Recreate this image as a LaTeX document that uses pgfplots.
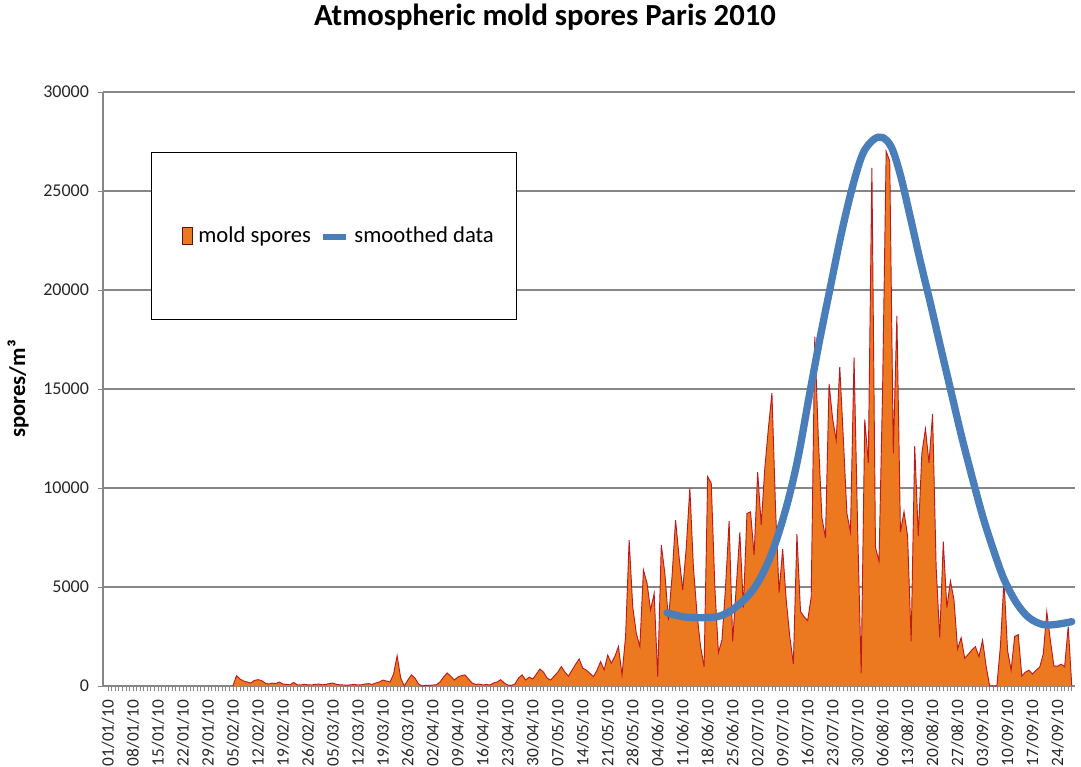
\documentclass[border=0pt]{standalone}
\usepackage{fontspec}
\setmainfont{Carlito}
\usepackage{pgfplots}
\usepackage{pgfplotstable}
\pgfplotsset{compat=1.18}
\definecolor{moldfill}{RGB}{236,121,32}
\definecolor{moldline}{RGB}{190,25,30}
\definecolor{smoothblue}{RGB}{74,126,187}
\definecolor{gridc}{RGB}{134,134,134}

\pgfplotstableread{
day val
35 0
36 520
37 350
38 250
39 200
40 150
41 280
42 320
43 280
44 150
45 100
46 150
47 120
48 200
49 100
50 80
51 60
52 180
53 60
54 50
55 80
56 60
57 50
58 80
59 100
60 60
61 80
62 120
63 150
64 80
65 60
66 50
67 40
68 60
69 80
70 50
71 60
72 100
73 120
74 80
75 150
76 200
77 300
78 250
79 200
80 600
81 1530
82 400
83 0
84 300
85 560
86 400
87 100
88 0
89 30
90 30
91 50
92 60
93 200
94 450
95 660
96 500
97 300
98 450
99 520
100 560
101 350
102 150
103 80
104 100
105 50
106 80
107 50
108 150
109 200
110 320
111 150
112 50
113 30
114 100
115 400
116 560
117 300
118 450
119 350
120 600
121 860
122 700
123 400
124 300
125 500
126 700
127 980
128 700
129 500
130 800
131 1100
132 1360
133 900
134 800
135 640
136 470
137 800
138 1230
139 810
140 1560
141 1150
142 1500
143 1990
144 560
145 2500
146 7370
147 4000
148 2660
149 1990
150 5860
151 5200
152 3840
153 4680
154 470
155 7120
156 5690
157 3330
158 5500
159 8380
160 6500
161 4850
162 7000
163 9990
164 6000
165 3670
166 2000
167 975
168 10570
169 10240
170 5000
171 1690
172 2320
173 5000
174 8330
175 2260
176 5000
177 7760
178 3960
179 8710
180 8800
181 6620
182 10800
183 8140
184 11000
185 13000
186 14790
187 9000
188 4720
189 6910
190 4340
191 2500
192 1115
193 7670
194 3770
195 3500
196 3300
197 4500
198 17630
199 12500
200 8500
201 7470
202 15260
203 13500
204 12410
205 16120
206 12500
207 8710
208 7780
209 16590
210 8000
211 650
212 13460
213 11270
214 26170
215 7000
216 6300
217 15000
218 27000
219 26500
220 11750
221 18690
222 7780
223 8800
224 7570
225 2250
226 12120
227 7570
228 11750
229 12980
230 11270
231 13740
232 6000
233 2440
234 7290
235 3960
236 5300
237 4340
238 1870
239 2440
240 1400
241 1600
242 1820
243 1985
244 1480
245 2320
246 1000
247 0
248 0
249 0
250 2000
251 5350
252 1800
253 800
254 2500
255 2600
256 500
257 700
258 800
259 600
260 800
261 950
262 1600
263 3750
264 2300
265 1000
266 1000
267 1100
268 975
269 3000
270 0
}\molddata

\pgfplotstableread{
day val
156.6 3700
161 3500
165 3450
170.6 3500
174 3750
177 4150
180 4700
182.6 5400
185.5 6500
188.2 7900
191 9700
193.5 11700
196.5 14700
199.5 17600
202.2 20000
205.5 22900
208.7 25300
211.5 26900
214.5 27600
217 27700
219.5 27200
222 25800
224.6 23800
227.5 21500
230.3 19400
233 17300
236 15000
239 12700
242 10600
245 8600
248 6900
251 5400
254.5 4200
258 3450
262 3100
266 3120
270 3250
}\smoothdata

\begin{document}
\begin{tikzpicture}
\path[use as bounding box] (-77.25pt,-60.75pt) rectangle (733.5pt,514.5pt);
\begin{axis}[
  at={(0pt,0pt)}, anchor=south west,
  scale only axis, width=729pt, height=445.5pt,
  xmin=-1.4, xmax=270.9, ymin=0, ymax=30000,
  axis x line*=bottom, axis y line*=left,
  axis line style={gridc, line width=0.9pt},
  scaled y ticks=false,
  ytick={0,5000,...,30000},
  yticklabels={0,5000,10000,15000,20000,25000,30000},
  ymajorgrids, grid style={gridc, line width=1pt},
  xtick={0,7,...,266},
  xticklabels={01/01/10,08/01/10,15/01/10,22/01/10,29/01/10,05/02/10,12/02/10,19/02/10,26/02/10,05/03/10,12/03/10,19/03/10,26/03/10,02/04/10,09/04/10,16/04/10,23/04/10,30/04/10,07/05/10,14/05/10,21/05/10,28/05/10,04/06/10,11/06/10,18/06/10,25/06/10,02/07/10,09/07/10,16/07/10,23/07/10,30/07/10,06/08/10,13/08/10,20/08/10,27/08/10,03/09/10,10/09/10,17/09/10,24/09/10},
  minor xtick={0,1,...,270},
  tick align=outside,
  major tick length=4pt, minor tick length=4pt,
  tick style={gridc, line width=0.5pt},
  x tick label style={yshift=-3pt, rotate=90, anchor=east, font=\fontsize{13}{15}\selectfont, text=black!85},
  y tick label style={font=\fontsize{13.5}{15}\selectfont, text=black!85, xshift=-3pt},
  title={Atmospheric mold spores Paris 2010},
  title style={at={(axis description cs:0.4547,1.0993)}, anchor=base, font=\bfseries\fontsize{23}{27}\selectfont},
  ylabel={spores/m³},
  ylabel style={at={(axis description cs:-0.0874,0.5)}, anchor=center, font=\bfseries\fontsize{17}{20}\selectfont},
  legend style={at={(0.0494,0.899)}, anchor=north west, draw=black, line width=0.9pt,
    inner xsep=15pt, inner ysep=54pt, legend columns=2,
    font=\fontsize{17}{20}\selectfont,
    /tikz/every odd column/.append style={column sep=2pt},
    /tikz/every even column/.append style={column sep=5pt}},
]
\addplot[fill=moldfill, draw=none,
  legend image code/.code={\path (0pt,0pt); \draw[fill=moldfill, draw=moldline!50!black, line width=0.6pt] (8.25pt,-6.5pt) rectangle (15.75pt,6.5pt);}]
  table[x=day,y=val]{\molddata} \closedcycle;
\addplot[moldline, line width=0.7pt, forget plot] table[x=day,y=val]{\molddata};
\addplot[smoothblue, line width=5.5pt, line cap=round, smooth, tension=0.55,
  legend image code/.code={\draw[smoothblue, line width=4.5pt, line cap=butt] (0pt,-1pt) -- (17pt,-1pt);}]
  table[x=day,y=val]{\smoothdata};
\legend{mold spores, smoothed data}
\end{axis}
\end{tikzpicture}
\end{document}
